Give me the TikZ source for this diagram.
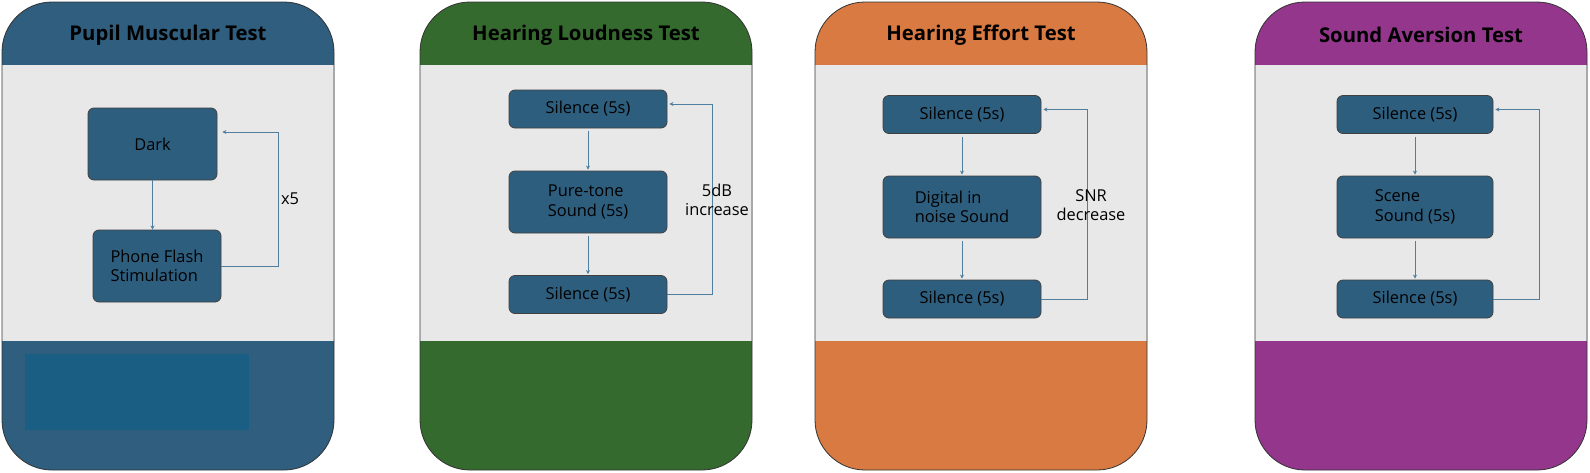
\documentclass[tikz,border=0pt]{standalone}
\usepackage{fontspec}
\setmainfont{Open Sans}
\usetikzlibrary{calc}
\usetikzlibrary{arrows.meta}
\definecolor{PupilBlue}{HTML}{2F5E7E}
\definecolor{LoudGreen}{HTML}{346A2E}
\definecolor{EffortOrange}{HTML}{D87A42}
\definecolor{AversionPurple}{HTML}{93368C}
\definecolor{BandGray}{HTML}{E8E8E8}
\definecolor{StepBlue}{HTML}{2E5E7E}
\definecolor{LinkBlue}{HTML}{4F7E9E}
\definecolor{PatchBlue}{HTML}{1A5F83}
\tikzset{
  stepbox/.style={draw=black!75, fill=StepBlue, rounded corners=6pt,
    line width=0.8pt, inner sep=0pt, minimum width=158pt,
    minimum height=38pt, font=\fontsize{16.4}{19.5}\selectfont},
  link/.style={draw=LinkBlue, line width=1pt,
    -{Stealth[length=4pt,width=4pt]}},
  titletext/.style={font=\fontsize{20.3}{24}\selectfont\bfseries},
  sidetext/.style={font=\fontsize{16.4}{19.5}\selectfont, align=center}
}

\begin{document}
\begin{tikzpicture}[x=1pt,y=-1pt]
  \useasboundingbox (0,0) rectangle (1590,472);

  % the four test panels
  \foreach \px/\col/\ttl in {2/PupilBlue/Pupil Muscular Test,
      420/LoudGreen/Hearing Loudness Test,
      815/EffortOrange/Hearing Effort Test,
      1255/AversionPurple/Sound Aversion Test} {
    \fill[\col, rounded corners=50pt] (\px,2) rectangle ++(332,468);
    \fill[BandGray] (\px,65) rectangle ++(332,276);
    \draw[black!80, line width=0.8pt, rounded corners=50pt] (\px,2) rectangle ++(332,468);
    \node[titletext] (title\px) at (\px+166,35) {\ttl};
  }

  \fill[PatchBlue] (25,354) rectangle (249,430);

  % pupil muscular
  \node[stepbox, minimum width=129pt, minimum height=72pt] (dark) at (152.5,144) {Dark};
  \node[stepbox, minimum width=128pt, minimum height=72pt, align=left] (flash) at (157,266) {Phone Flash\\Stimulation};
  \draw[link] (dark.south) -- (dark.south |- flash.north);
  \draw[link] (flash.east) -- ++(57,0) |- ([xshift=5pt,yshift=12pt]dark.east);
  \node[sidetext] (reps) at (290,199) {x5};

  % hearing loudness
  \node[stepbox] (silA) at (588,109) {Silence (5s)};
  \node[stepbox, minimum height=62pt, align=left] (pure) at (588,202) {Pure-tone\\Sound (5s)};
  \node[stepbox] (silB) at (588,294.5) {Silence (5s)};
  \draw[link, shorten <=3pt, shorten >=1pt] (silA) -- (pure);
  \draw[link, shorten <=3pt, shorten >=1pt] (pure) -- (silB);
  \draw[link] (silB.east) -- ++(45,0) |- ([xshift=2pt,yshift=5pt]silA.east);
  \node[sidetext] (incr) at (717,200) {5dB\\increase};

  % hearing effort
  \node[stepbox] (silC) at (962,114.5) {Silence (5s)};
  \node[stepbox, minimum height=62pt, align=left] (digit) at (962,207) {Digital in\\noise Sound};
  \node[stepbox] (silD) at (962,299) {Silence (5s)};
  \draw[link, shorten <=3pt, shorten >=1pt] (silC) -- (digit);
  \draw[link, shorten <=3pt, shorten >=1pt] (digit) -- (silD);
  \draw[link] (silD.east) -- ++(46,0) |- ([xshift=2pt,yshift=5pt]silC.east);
  \node[sidetext] (decr) at (1091,205) {SNR\\decrease};

  % sound aversion
  \node[stepbox, minimum width=156pt] (silE) at (1415,114.5) {Silence (5s)};
  \node[stepbox, minimum width=156pt, minimum height=62pt, align=left] (scene) at (1415,207) {Scene\\Sound (5s)};
  \node[stepbox, minimum width=156pt] (silF) at (1415,299) {Silence (5s)};
  \draw[link, shorten <=3pt, shorten >=1pt] (silE) -- (scene);
  \draw[link, shorten <=3pt, shorten >=1pt] (scene) -- (silF);
  \draw[link] (silF.east) -- ++(46,0) |- ([xshift=2pt,yshift=5pt]silE.east);

\end{tikzpicture}
\end{document}
